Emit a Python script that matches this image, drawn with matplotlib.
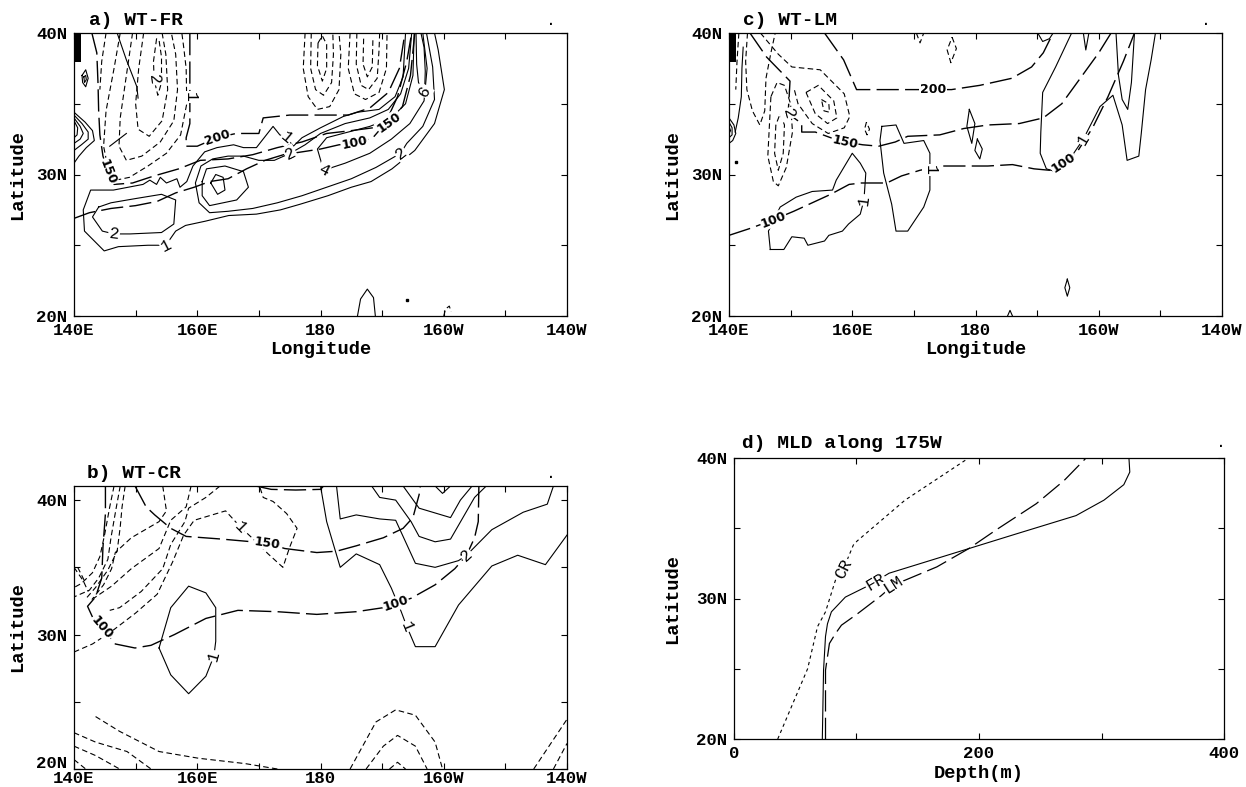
import math
import matplotlib
matplotlib.use('Agg')
import matplotlib.pyplot as plt
from matplotlib.patches import Rectangle
from matplotlib.transforms import ScaledTranslation

plt.rcParams['font.family'] = ['Liberation Mono', 'DejaVu Sans Mono']

# ---- axis ticks ----
lon_major = [140, 160, 180, 200, 220]
lon_labels = ['140E', '160E', '180', '160W', '140W']
lon_minor = [150, 170, 190, 210]
lat_major = [20, 30, 40]
lat_labels = ['20N', '30N', '40N']
lat_minor = [25, 35]
depth_major = [0, 200, 400]
depth_minor = [100, 300]

# land box (Japan) in panels a and c
land_lon = (140.0, 141.1)
land_lat = (37.95, 40.0)

# ---- panel a) WT-FR : contours traced as (lon east, lat) ----
a_mld200 = [(158.8, 40.0), (158.8, 37.0), (158.8, 35.5), (158.8, 33.6), (158.2, 32.6), (158.2, 32.0),
            (160.0, 32.0), (163.2, 32.6), (166.3, 32.9), (170.0, 32.9), (170.7, 34.0), (175.0, 34.2),
            (180.0, 34.2), (184.5, 34.2), (188.0, 34.7), (191.0, 35.8), (192.8, 37.5), (193.7, 40.0)]
a_mld150 = [(142.9, 40.0), (143.7, 38.6), (143.9, 36.4), (144.0, 34.5), (144.2, 32.8), (144.7, 31.3),
            (145.5, 30.2), (146.5, 29.3), (149.5, 29.4), (153.0, 29.9), (157.0, 30.4), (160.5, 31.0),
            (165.0, 31.1), (169.0, 31.4), (173.0, 31.9), (177.0, 32.3), (181.0, 32.9), (185.0, 33.1),
            (188.5, 33.3), (191.1, 33.7), (193.3, 34.8), (194.6, 37.0), (195.3, 40.0)]
a_mld100 = [(140.0, 26.9), (142.5, 27.3), (146.0, 27.6), (150.0, 27.8), (153.5, 28.1), (156.5, 28.7),
            (159.5, 29.1), (162.0, 29.5), (165.0, 29.7), (168.0, 30.4), (171.0, 31.0), (174.0, 31.4),
            (177.0, 31.6), (180.0, 31.8), (183.0, 32.1), (185.6, 32.2), (188.5, 32.6), (190.5, 33.6),
            (192.5, 35.5), (194.0, 38.0), (194.8, 40.0)]
a_pos1 = [(193.8, 40.0), (193.4, 36.9), (192.1, 35.5), (189.5, 34.6), (186.0, 34.4), (183.7, 34.1),
          (180.0, 33.3), (177.0, 32.6), (175.6, 32.0), (174.5, 32.6), (173.4, 32.8), (172.3, 33.4),
          (169.6, 31.9), (167.5, 31.9), (165.9, 32.1), (163.2, 31.9), (161.2, 31.6), (159.3, 30.6),
          (158.3, 29.5), (157.2, 29.1), (156.7, 29.7), (155.0, 29.4), (154.0, 29.8), (153.4, 29.3),
          (152.3, 29.6), (151.2, 29.3), (146.4, 28.9), (142.7, 28.9), (141.5, 27.5), (141.7, 26.0),
          (144.9, 24.6), (147.2, 24.9), (152.0, 25.0), (154.9, 25.0), (156.5, 26.0), (158.1, 26.4),
          (161.3, 26.7), (165.1, 27.1), (169.6, 27.2), (173.5, 27.5), (176.7, 27.9), (181.2, 28.5),
          (185.0, 29.1), (188.2, 29.5), (191.6, 30.4), (195.3, 31.7), (198.5, 33.6), (200.1, 36.0),
          (199.1, 38.8), (198.5, 40.0)]
a_pos2 = [(194.8, 40.0), (194.3, 37.5), (193.0, 35.7), (191.0, 34.6), (188.0, 34.0), (184.0, 33.6),
          (180.0, 32.9), (177.5, 32.1), (175.1, 31.5), (172.5, 31.0), (170.0, 31.0), (167.5, 31.3),
          (165.0, 31.3), (162.5, 31.1), (160.6, 30.6), (159.7, 29.4), (160.3, 28.0), (162.0, 27.3),
          (165.0, 27.4), (169.0, 27.6), (173.0, 28.0), (177.0, 28.5), (181.0, 29.1), (185.0, 29.7),
          (189.0, 30.5), (193.0, 31.5), (194.0, 32.2), (196.6, 33.4), (198.5, 35.3), (198.2, 37.6),
          (197.2, 40.0)]
a_pos2_west = [(144.0, 27.7), (143.0, 27.0), (144.6, 26.0), (146.5, 25.8), (149.1, 25.8), (154.2, 25.9),
               (156.2, 26.5), (156.5, 28.2), (154.2, 28.6), (150.0, 28.3), (146.0, 28.0), (144.0, 27.7)]
a_pos4 = [(195.2, 40.0), (195.0, 37.0), (193.8, 35.0), (191.5, 34.0), (188.0, 33.4), (184.5, 33.0),
          (181.0, 32.6), (179.5, 31.8), (180.5, 30.3), (184.0, 30.8), (188.0, 31.5), (191.5, 32.5),
          (194.5, 33.6), (196.8, 35.2), (197.3, 37.5), (196.6, 40.0)]
a_pos6 = [(195.5, 40.0), (195.6, 37.8), (195.9, 36.5), (196.9, 35.9), (197.0, 37.3), (196.8, 39.0),
          (196.3, 40.0)]
a_pos_mid1 = [(160.8, 29.5), (161.5, 30.4), (164.5, 30.6), (167.5, 30.2), (168.3, 29.1), (166.4, 28.2),
              (162.0, 27.8), (160.8, 28.5), (160.8, 29.5)]
a_pos_mid2 = [(162.2, 29.4), (163.0, 30.0), (164.2, 29.8), (164.5, 28.9), (163.3, 28.6), (162.2, 29.4)]
a_pos_south = [(186.0, 20.0), (186.5, 21.2), (187.6, 21.9), (188.6, 21.3), (188.9, 20.0)]
a_pos_e1 = [(140.0, 34.4), (141.8, 33.7), (143.0, 33.1), (143.3, 32.4), (142.0, 31.9), (140.8, 31.3),
            (140.0, 30.8)]
a_pos_e2 = [(140.0, 34.2), (141.3, 33.6), (142.3, 33.0), (142.3, 32.5), (141.2, 32.1), (140.0, 31.7)]
a_pos_e3 = [(140.0, 34.0), (141.0, 33.4), (141.5, 32.9), (141.0, 32.5), (140.0, 32.2)]
a_pos_e4 = [(140.0, 33.8), (140.6, 33.3), (140.5, 32.8), (140.0, 32.6)]
a_pos_e5 = [(141.3, 37.0), (141.9, 37.4), (142.3, 36.8), (141.9, 36.2), (141.4, 36.5), (141.3, 37.0)]
a_pos_e6 = [(141.6, 36.9), (141.9, 37.0), (142.0, 36.7), (141.7, 36.5), (141.6, 36.9)]
a_pos_d1 = [(147.0, 40.0), (148.5, 38.1), (150.2, 36.2), (150.4, 35.4)]
a_pos_d2 = [(145.8, 32.0), (148.5, 32.9)]
a_neg1 = [(147.5, 40.0), (146.5, 37.5), (145.2, 34.5), (144.8, 32.0), (145.5, 30.5), (146.8, 29.6),
          (149.0, 29.8), (152.0, 30.6), (155.0, 31.5), (157.3, 32.8), (158.3, 35.0), (158.2, 37.5),
          (157.8, 39.0), (157.5, 40.0)]
a_neg2 = [(149.5, 40.0), (148.5, 37.0), (147.5, 34.0), (147.3, 32.0), (148.5, 31.0), (151.0, 31.3),
          (154.0, 32.3), (156.2, 33.8), (156.8, 36.0), (156.5, 38.5), (155.8, 40.0)]
a_neg3 = [(151.3, 40.0), (150.5, 37.5), (150.0, 35.0), (150.4, 33.2), (152.2, 32.7), (154.3, 33.8),
          (155.2, 36.0), (154.9, 38.5), (154.3, 40.0)]
a_neg4 = [(153.4, 39.6), (152.9, 38.0), (153.0, 36.7), (153.6, 35.6), (154.2, 36.5), (154.2, 38.3),
          (153.8, 39.5), (153.4, 39.6)]
a_neg5 = [(145.2, 40.0), (144.5, 38.0), (144.2, 36.0)]
a_neg6 = [(177.5, 40.0), (177.2, 37.5), (178.0, 35.5), (179.5, 34.6), (181.5, 34.8), (183.0, 36.0),
          (183.3, 38.5), (183.0, 40.0)]
a_neg7 = [(178.5, 40.0), (178.4, 37.5), (179.2, 36.0), (180.5, 35.6), (181.8, 36.5), (182.1, 38.5),
          (182.0, 40.0)]
a_neg8 = [(179.6, 39.3), (179.5, 37.7), (180.3, 36.6), (181.0, 37.5), (181.0, 39.2), (180.3, 39.8),
          (179.6, 39.3)]
a_neg9 = [(184.8, 40.0), (184.5, 37.5), (185.5, 35.7), (187.3, 35.3), (189.5, 35.8), (190.7, 37.5),
          (190.8, 40.0)]
a_neg10 = [(185.9, 40.0), (185.8, 37.8), (186.6, 36.3), (187.8, 36.0), (189.2, 36.8), (189.5, 38.8),
           (189.6, 40.0)]
a_neg11 = [(187.0, 39.6), (186.9, 37.8), (187.6, 36.9), (188.4, 37.6), (188.5, 39.5)]
a_neg_south = [(200.0, 20.0), (200.3, 20.5), (200.9, 20.7), (201.2, 20.3)]
a_dots = [(194.0, 21.1)]

# ---- panel c) WT-LM ----
c_mld200 = [(155.5, 40.0), (158.6, 38.1), (160.7, 36.0), (165.0, 36.0), (170.3, 36.0), (173.1, 36.0),
            (176.1, 36.0), (180.7, 36.3), (185.9, 36.8), (189.1, 37.6), (191.0, 38.6), (192.6, 40.0)]
c_mld150 = [(143.4, 40.0), (146.1, 38.3), (149.9, 36.6), (149.6, 34.3), (151.8, 33.6), (151.8, 33.0),
            (154.0, 33.0), (156.5, 32.6), (158.8, 32.3), (161.7, 32.1), (164.3, 32.0), (167.0, 32.3),
            (169.0, 32.7), (174.2, 32.8), (178.1, 33.25), (182.0, 33.5), (187.1, 33.6), (191.0, 34.0),
            (194.0, 35.0), (197.0, 36.8), (200.0, 38.6), (202.0, 40.0)]
c_mld100 = [(140.0, 25.7), (143.5, 26.2), (147.2, 26.8), (150.5, 27.4), (153.5, 28.0), (156.5, 28.6),
            (159.5, 29.3), (161.5, 29.4), (165.6, 29.4), (168.0, 29.9), (171.0, 30.3), (174.5, 30.6),
            (178.0, 30.6), (182.0, 30.6), (186.0, 30.7), (189.5, 30.4), (192.0, 30.3), (194.3, 30.8),
            (196.5, 31.6), (199.0, 33.3), (201.5, 35.5), (204.0, 38.0), (205.8, 40.0)]
c_pos1 = [(146.7, 24.7), (146.4, 26.0), (148.3, 27.7), (150.9, 28.4), (153.5, 28.8), (156.8, 28.9),
          (157.4, 29.6), (160.0, 31.5), (161.3, 30.8), (162.2, 30.1), (161.9, 28.2), (161.3, 27.2),
          (159.4, 26.5), (158.4, 26.0), (156.2, 25.7), (155.5, 25.3), (152.8, 25.0), (152.2, 25.5),
          (150.2, 25.6), (148.9, 24.7), (146.7, 24.7)]
c_pos2 = [(164.8, 33.4), (167.1, 33.5), (168.4, 32.2), (171.6, 32.4), (172.6, 31.5), (172.6, 30.3),
          (172.6, 28.9), (171.6, 27.7), (169.0, 26.0), (167.1, 26.0), (166.4, 27.9), (165.1, 30.1),
          (164.5, 32.4), (164.8, 33.4)]
c_pos3 = [(179.0, 34.6), (179.9, 33.6), (179.4, 32.2), (178.6, 33.4), (179.0, 34.6)]
c_pos4 = [(180.3, 32.5), (181.1, 31.8), (180.7, 31.1), (179.9, 31.7), (180.3, 32.5)]
c_pos5 = [(195.6, 40.0), (193.0, 37.6), (190.9, 35.8), (190.6, 33.0), (190.5, 31.5), (191.5, 30.4),
          (193.0, 30.2), (195.0, 30.9), (197.5, 32.5), (200.2, 34.8), (202.3, 35.6), (203.8, 33.5),
          (204.6, 31.0), (206.5, 31.3), (206.9, 32.9), (207.6, 36.0), (208.5, 38.1), (209.2, 40.0)]
c_pos6 = [(202.8, 40.0), (203.2, 37.0), (203.8, 35.3), (204.7, 34.6), (205.3, 36.5), (205.8, 40.0)]
c_pos7 = [(197.5, 40.0), (197.9, 38.8), (198.4, 40.0)]
c_pos8 = [(190.1, 40.0), (190.9, 39.4), (192.0, 39.6), (192.6, 40.0)]
c_pos9 = [(194.9, 22.6), (195.3, 22.0), (194.9, 21.4), (194.5, 22.0), (194.9, 22.6)]
c_pos10 = [(185.2, 20.0), (185.6, 20.4), (186.0, 20.0)]
c_pos11 = [(142.3, 39.0), (142.1, 37.5), (142.0, 35.5), (141.5, 34.0), (141.0, 33.0)]
c_pos_e1 = [(140.0, 34.0), (140.8, 33.5), (141.1, 32.9), (140.6, 32.4), (140.0, 32.2)]
c_pos_e2 = [(140.0, 33.7), (140.5, 33.3), (140.5, 32.8), (140.0, 32.6)]
c_pos_e3 = [(140.0, 33.4), (140.25, 33.1), (140.0, 32.9)]
c_neg1 = [(146.8, 35.5), (146.5, 33.0), (146.3, 31.3), (147.2, 29.5), (148.0, 29.2), (149.3, 30.5),
          (150.3, 33.0), (150.0, 35.0), (149.0, 36.3), (147.8, 36.5), (146.8, 35.5)]
c_neg2 = [(145.1, 40.0), (148.0, 38.5), (150.2, 37.6), (154.8, 37.4), (158.7, 35.7), (159.6, 34.1),
          (158.7, 33.3), (156.1, 32.9), (153.5, 33.6), (151.2, 35.0), (150.6, 36.0)]
c_neg3 = [(152.5, 35.8), (154.5, 36.3), (157.0, 35.2), (157.5, 34.0), (156.0, 33.6), (154.0, 34.3),
          (152.5, 35.8)]
c_neg4 = [(155.0, 35.3), (156.2, 35.0), (156.3, 34.4), (155.4, 34.5), (155.0, 35.3)]
c_neg5 = [(147.6, 33.5), (147.4, 31.5), (148.0, 30.3), (148.8, 31.5), (149.0, 33.5), (148.3, 34.3),
          (147.6, 33.5)]
c_neg6 = [(141.6, 40.0), (141.3, 38.0), (141.1, 36.0)]
c_neg7 = [(143.0, 40.0), (142.7, 38.0), (142.9, 36.0), (143.8, 34.5), (145.0, 33.5), (145.8, 34.5),
          (146.0, 36.8), (146.8, 38.6), (147.5, 40.0)]
c_neg8 = [(176.2, 39.7), (176.9, 38.9), (176.0, 37.9), (175.4, 38.8), (176.2, 39.7)]
c_neg9 = [(170.4, 40.0), (171.0, 39.3), (171.6, 40.0)]
c_neg10 = [(162.3, 33.7), (162.0, 33.2), (162.4, 32.8), (162.8, 33.2), (162.3, 33.7)]
c_dots = [(141.2, 30.9)]

# ---- panel b) WT-CR (top of box is 41.05N) ----
b_top = 41.05
b_mld200 = [(169.5, 41.05), (172.0, 40.8), (176.0, 40.75), (180.0, 40.8), (180.5, 41.05)]
b_mld150 = [(149.9, 41.05), (151.7, 39.5), (153.1, 38.9), (155.7, 37.9), (158.2, 37.3), (164.0, 37.1),
            (171.4, 36.8), (174.2, 36.4), (179.4, 36.1), (182.6, 36.2), (185.8, 36.6), (190.2, 37.2),
            (193.4, 37.9), (195.0, 38.7), (196.0, 40.4), (196.2, 41.05)]
b_mld100 = [(145.1, 41.05), (145.1, 39.0), (144.7, 36.5), (144.5, 34.2), (143.5, 32.8), (142.2, 32.1),
            (143.0, 31.3), (144.5, 30.5), (146.7, 29.3), (149.9, 29.0), (152.5, 29.2), (156.3, 30.0),
            (161.4, 31.2), (166.6, 31.8), (173.0, 31.7), (179.4, 31.5), (185.8, 31.7), (190.2, 32.0),
            (192.2, 32.3), (194.7, 32.7), (198.6, 33.7), (201.8, 34.9), (203.7, 35.9), (205.0, 37.2),
            (205.6, 38.4), (205.7, 41.05)]
b_pos1 = [(153.8, 29.0), (155.7, 32.0), (158.6, 33.6), (161.4, 33.1), (163.0, 32.0), (163.0, 29.5),
          (162.7, 28.4), (161.4, 26.9), (158.6, 25.6), (155.7, 27.0), (153.8, 29.0)]
b_pos2 = [(180.0, 41.05), (181.0, 38.4), (183.2, 35.0), (185.8, 36.0), (189.6, 35.2), (191.5, 33.45),
          (193.1, 31.7), (194.0, 30.6), (195.4, 29.1), (198.6, 29.1), (202.4, 32.2), (207.8, 35.1),
          (212.0, 35.9), (216.5, 35.2), (220.0, 37.4)]
b_pos3 = [(182.6, 41.05), (183.2, 38.6), (185.8, 38.9), (189.6, 38.6), (192.2, 38.5), (195.4, 35.3),
          (198.6, 35.0), (202.4, 35.5), (203.7, 35.9), (207.8, 37.8), (212.9, 39.1), (216.8, 39.7),
          (217.8, 41.05)]
b_pos4 = [(188.3, 41.05), (189.6, 40.2), (192.2, 40.0), (194.7, 38.4), (196.0, 37.3), (198.6, 36.9),
          (201.1, 37.1), (205.0, 40.2), (206.9, 41.05)]
b_pos5 = [(193.4, 41.05), (196.0, 39.4), (201.1, 38.7), (202.7, 40.0), (204.6, 41.05)]
b_pos6 = [(198.6, 41.05), (199.8, 40.5), (201.1, 41.05)]
b_neg1 = [(146.5, 41.05), (145.8, 39.5), (145.0, 37.5), (144.2, 35.8), (143.0, 34.6), (141.2, 33.8),
          (140.0, 33.5)]
b_neg2 = [(147.5, 41.05), (146.8, 39.3), (146.0, 37.2), (145.5, 35.6), (144.0, 34.2), (142.5, 33.3),
          (140.0, 32.8)]
b_neg3 = [(148.3, 41.05), (147.8, 39.5), (147.5, 38.0), (147.0, 36.2), (145.5, 34.8), (143.5, 33.5),
          (141.8, 32.6)]
b_neg4 = [(154.4, 41.05), (155.0, 39.2), (153.8, 38.4), (149.3, 37.2), (146.7, 36.1), (146.1, 34.9),
          (144.8, 33.7), (142.9, 32.6)]
b_neg5 = [(159.0, 41.05), (158.2, 39.5), (155.7, 38.5), (153.8, 36.4), (149.3, 34.9), (146.1, 33.6),
          (143.2, 32.7)]
b_neg6 = [(163.7, 41.05), (161.4, 40.2), (158.6, 39.4), (158.0, 38.4), (155.7, 36.7), (154.4, 34.9),
          (150.9, 33.2), (147.4, 32.0), (145.8, 31.8)]
b_neg7 = [(140.0, 28.7), (143.0, 29.3), (146.0, 30.2), (150.0, 31.6), (153.5, 33.0), (156.0, 35.4),
          (157.8, 37.4), (159.5, 38.5), (164.6, 39.2), (167.0, 38.0), (169.1, 37.1), (171.5, 36.0),
          (173.9, 35.0), (175.0, 36.5), (176.2, 37.9), (174.5, 39.0), (172.3, 39.9), (170.7, 40.2),
          (170.1, 41.05)]
b_neg8 = [(140.0, 35.0), (141.5, 34.0), (142.3, 33.2)]
b_neg9 = [(140.6, 35.0), (141.8, 33.9)]
b_neg_sw1 = [(143.5, 23.9), (147.4, 22.8), (153.8, 21.3), (160.2, 20.8), (167.8, 20.4), (173.0, 20.0)]
b_neg_sw2 = [(140.0, 22.7), (143.5, 22.0), (148.6, 21.3), (152.5, 20.0)]
b_neg_sw3 = [(140.0, 21.7), (143.5, 21.0), (147.4, 20.0)]
b_neg_sw4 = [(140.0, 20.7), (141.9, 20.0)]
b_neg_s1 = [(184.8, 20.0), (189.0, 23.5), (192.2, 24.4), (195.4, 24.0), (198.6, 22.0), (199.8, 20.0)]
b_neg_s2 = [(187.4, 20.0), (190.2, 21.7), (192.5, 22.5), (195.4, 21.7), (197.3, 20.0)]
b_neg_s3 = [(191.2, 20.0), (192.5, 20.5), (193.8, 20.0)]
b_neg_se1 = [(214.6, 20.0), (220.0, 23.7)]
b_neg_se2 = [(217.8, 20.0), (220.0, 21.9)]

# ---- panel d) MLD along 175W ----
cr_depth = [35.7, 60.1, 68.2, 74.7, 82.8, 89.3, 97.4, 100.6, 139.6, 191.6]
cr_lat = [20.0, 25.0, 28.0, 29.05, 31.3, 32.1, 33.8, 34.1, 37.0, 40.0]
fr_depth = [72.1, 73.1, 74.7, 76.3, 79.5, 90.9, 107.1, 115.3, 126.6, 191.6, 230.5, 279.2, 302.0,
            318.2, 323.1, 322.4]
fr_lat = [20.0, 24.9, 27.3, 28.2, 29.05, 30.1, 30.8, 31.2, 31.8, 33.55, 34.6, 35.9, 37.0, 38.1,
          39.0, 40.0]
lm_depth = [74.7, 74.7, 77.9, 82.8, 87.7, 100.6, 120.1, 129.9, 139.6, 165.6, 191.6, 214.3, 246.8,
            269.5, 287.4]
lm_lat = [20.0, 24.9, 26.8, 27.5, 28.1, 28.9, 30.2, 30.95, 31.3, 32.25, 33.55, 34.9, 36.75, 38.4, 40.0]


# ---------------------------------------------------------------
W, H = 1246, 787
fig = plt.figure(figsize=(W / 100, H / 100), dpi=100)
ax_a = fig.add_axes([74 / W, 1 - 316 / H, 493 / W, 283 / H])
ax_c = fig.add_axes([729 / W, 1 - 316 / H, 493 / W, 283 / H])
ax_b = fig.add_axes([74 / W, 1 - 769 / H, 493 / W, 283 / H])
ax_d = fig.add_axes([734 / W, 1 - 739 / H, 490 / W, 281 / H])

TICK_FS = 12.5
LABEL_FS = 13.5
TITLE_FS = 14
BOLD = 'bold'


def style_ticks(ax, xpad=5):
    ax.tick_params(which='both', direction='in', top=True, right=True, length=4, width=0.8,
                   labelsize=TICK_FS, pad=5)
    ax.tick_params(axis='x', pad=xpad)
    for lab in ax.get_xticklabels() + ax.get_yticklabels():
        lab.set_fontweight(BOLD)
    for s in ax.spines.values():
        s.set_linewidth(0.9)


def frame(ax, top=40.0, xlabel=True, xpad=5):
    ax.set_xlim(140, 220)
    ax.set_ylim(20, top)
    ax.set_xticks(lon_major)
    ax.set_xticklabels(lon_labels)
    ax.set_xticks(lon_minor, minor=True)
    ax.set_yticks(lat_major)
    ax.set_yticklabels(lat_labels)
    ax.set_yticks(lat_minor, minor=True)
    style_ticks(ax, xpad)
    if xlabel:
        ax.set_xlabel('Longitude', fontsize=LABEL_FS, fontweight=BOLD)
        ax.xaxis.set_label_coords(0.5, -0.117)
        ax.xaxis.label.set_va('center')
    ax.set_ylabel('Latitude', fontsize=LABEL_FS, fontweight=BOLD)
    ax.yaxis.set_label_coords(-0.1136, 0.5)
    ax.yaxis.label.set_va('center')


def draw(ax, line, kind):
    xs = [p[0] for p in line]
    ys = [p[1] for p in line]
    if kind == 'solid':
        ax.plot(xs, ys, color='black', lw=0.8)
    elif kind == 'short':
        ax.plot(xs, ys, color='black', lw=0.8, dashes=(5, 3))
    else:
        ax.plot(xs, ys, color='black', lw=1.0, dashes=(16, 4.5))


def put_label(ax, xs, ys, i, text, kind):
    n = len(xs)
    p1 = ax.transData.transform((xs[max(i - 1, 0)], ys[max(i - 1, 0)]))
    p2 = ax.transData.transform((xs[min(i + 1, n - 1)], ys[min(i + 1, n - 1)]))
    ang = math.degrees(math.atan2(p2[1] - p1[1], p2[0] - p1[0]))
    if ang > 90:
        ang -= 180
    elif ang < -90:
        ang += 180
    if kind == 'mld':
        font = dict(family='DejaVu Sans', fontweight='bold', fontsize=9)
    else:
        font = dict(family='Liberation Mono', fontsize=12)
    ax.text(xs[i], ys[i], text, rotation=ang, rotation_mode='anchor', ha='center', va='center',
            bbox=dict(boxstyle='square,pad=0.05', fc='white', ec='none'), zorder=5, **font)


def label_line(ax, line, i, text, kind):
    put_label(ax, [p[0] for p in line], [p[1] for p in line], i, text, kind)


def title(ax, text, x, y):
    ax.text(x, y, text, transform=ax.transAxes, fontsize=TITLE_FS, va='baseline', ha='left',
            fontweight=BOLD)
    ax.text(0.958, y, '.', transform=ax.transAxes, fontsize=12, va='baseline', ha='left')


def land(ax):
    ax.add_patch(Rectangle((land_lon[0], land_lat[0]), land_lon[1] - land_lon[0],
                           land_lat[1] - land_lat[0], fc='black', ec='none', zorder=6))


# ---- panel a ----
frame(ax_a)
for ln in [a_pos1, a_pos2, a_pos2_west, a_pos4, a_pos6, a_pos_mid1, a_pos_mid2, a_pos_south,
           a_pos_e1, a_pos_e2, a_pos_e3, a_pos_e4, a_pos_e5, a_pos_e6, a_pos_d1, a_pos_d2]:
    draw(ax_a, ln, 'solid')
for ln in [a_neg1, a_neg2, a_neg3, a_neg4, a_neg5, a_neg6, a_neg7, a_neg8, a_neg9, a_neg10,
           a_neg11, a_neg_south]:
    draw(ax_a, ln, 'short')
for ln in [a_mld200, a_mld150, a_mld100]:
    draw(ax_a, ln, 'long')
ax_a.plot([p[0] for p in a_dots], [p[1] for p in a_dots], 's', color='black', ms=1.5)
label_line(ax_a, a_mld200, 7, '200', 'mld')
label_line(ax_a, a_mld150, 6, '150', 'mld')
label_line(ax_a, a_mld150, 19, '150', 'mld')
label_line(ax_a, a_mld100, 15, '100', 'mld')
label_line(ax_a, a_mld200, 2, '1', 'wt')
label_line(ax_a, a_pos1, 9, '1', 'wt')
label_line(ax_a, a_pos1, 33, '1', 'wt')
label_line(ax_a, a_pos2, 8, '2', 'wt')
label_line(ax_a, a_pos2, 25, '2', 'wt')
label_line(ax_a, a_pos2_west, 3, '2', 'wt')
label_line(ax_a, a_pos4, 8, '4', 'wt')
label_line(ax_a, a_pos6, 3, '6', 'wt')
label_line(ax_a, a_neg4, 2, '2', 'wt')
land(ax_a)
title(ax_a, 'a) WT-FR', 0.03, 1.028)

# ---- panel c ----
frame(ax_c)
for ln in [c_pos1, c_pos2, c_pos3, c_pos4, c_pos5, c_pos6, c_pos7, c_pos8, c_pos9, c_pos10,
           c_pos11, c_pos_e1, c_pos_e2, c_pos_e3]:
    draw(ax_c, ln, 'solid')
for ln in [c_neg1, c_neg2, c_neg3, c_neg4, c_neg5, c_neg6, c_neg7, c_neg8, c_neg9, c_neg10]:
    draw(ax_c, ln, 'short')
for ln in [c_mld200, c_mld150, c_mld100]:
    draw(ax_c, ln, 'long')
ax_c.plot([p[0] for p in c_dots], [p[1] for p in c_dots], 's', color='black', ms=1.5)
label_line(ax_c, c_mld200, 5, '200', 'mld')
label_line(ax_c, c_mld150, 8, '150', 'mld')
label_line(ax_c, c_mld100, 2, '100', 'mld')
label_line(ax_c, c_mld100, 17, '100', 'mld')
label_line(ax_c, c_pos1, 10, '1', 'wt')
label_line(ax_c, c_pos2, 5, '1', 'wt')
label_line(ax_c, c_pos5, 8, '1', 'wt')
label_line(ax_c, c_mld150, 3, '2', 'wt')
land(ax_c)
title(ax_c, 'c) WT-LM', 0.029, 1.028)

# ---- panel b ----
frame(ax_b, top=b_top, xlabel=False, xpad=1.5)
# lift the bottom "20N" a little so it clears "140E" below it
lift = ScaledTranslation(0, 5 / 72, fig.dpi_scale_trans)
t20 = ax_b.yaxis.get_major_ticks()[0].label1
t20.set_transform(t20.get_transform() + lift)
for ln in [b_pos1, b_pos2, b_pos3, b_pos4, b_pos5, b_pos6]:
    draw(ax_b, ln, 'solid')
for ln in [b_neg1, b_neg2, b_neg3, b_neg4, b_neg5, b_neg6, b_neg7, b_neg8, b_neg9, b_neg_sw1,
           b_neg_sw2, b_neg_sw3, b_neg_sw4, b_neg_s1, b_neg_s2, b_neg_s3, b_neg_se1, b_neg_se2]:
    draw(ax_b, ln, 'short')
for ln in [b_mld200, b_mld150, b_mld100]:
    draw(ax_b, ln, 'long')
label_line(ax_b, b_mld150, 6, '150', 'mld')
label_line(ax_b, b_mld100, 7, '100', 'mld')
label_line(ax_b, b_mld100, 18, '100', 'mld')
label_line(ax_b, b_pos1, 6, '1', 'wt')
label_line(ax_b, b_pos2, 7, '1', 'wt')
label_line(ax_b, b_pos3, 8, '2', 'wt')
label_line(ax_b, b_neg7, 9, '1', 'wt')
title(ax_b, 'b) WT-CR', 0.026, 1.027)

# ---- panel d ----
ax_d.set_xlim(0, 400)
ax_d.set_ylim(20, 40)
ax_d.set_xticks(depth_major)
ax_d.set_xticks(depth_minor, minor=True)
ax_d.set_yticks(lat_major)
ax_d.set_yticklabels(lat_labels)
ax_d.set_yticks(lat_minor, minor=True)
style_ticks(ax_d)
ax_d.set_xlabel('Depth(m)', fontsize=LABEL_FS, fontweight=BOLD)
ax_d.xaxis.set_label_coords(0.5, -0.121)
ax_d.xaxis.label.set_va('center')
ax_d.set_ylabel('Latitude', fontsize=LABEL_FS, fontweight=BOLD)
ax_d.yaxis.set_label_coords(-0.1245, 0.5)
ax_d.yaxis.label.set_va('center')
ax_d.plot(cr_depth, cr_lat, color='black', lw=0.8, dashes=(3, 3))
ax_d.plot(fr_depth, fr_lat, color='black', lw=0.8)
ax_d.plot(lm_depth, lm_lat, color='black', lw=0.9, dashes=(17, 5))
put_label(ax_d, cr_depth, cr_lat, 5, 'CR', 'wt')
put_label(ax_d, fr_depth, fr_lat, 7, 'FR', 'wt')
put_label(ax_d, lm_depth, lm_lat, 7, 'LM', 'wt')
ax_d.text(0.016, 1.035, 'd) MLD along 175W', transform=ax_d.transAxes, fontsize=TITLE_FS,
          va='baseline', ha='left', fontweight=BOLD)
ax_d.text(0.984, 1.04, '.', transform=ax_d.transAxes, fontsize=12, va='baseline', ha='left')

fig.savefig('out.png', dpi=100)
